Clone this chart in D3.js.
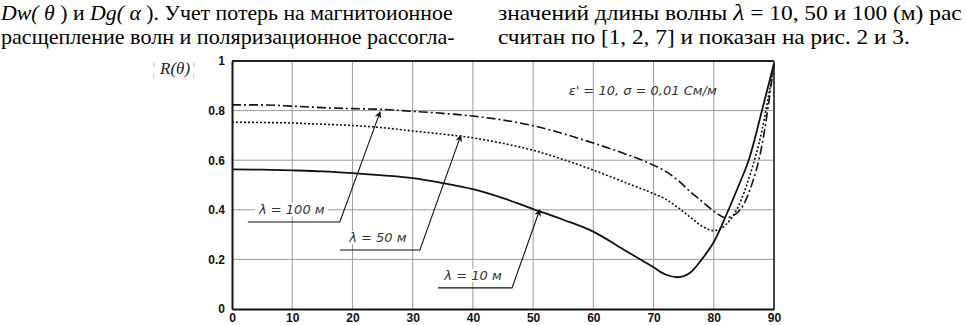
<!DOCTYPE html>
<html>
<head>
<meta charset="utf-8">
<script src="https://cdn.jsdelivr.net/npm/d3@7/dist/d3.min.js"></script>
<style>
  html, body { margin: 0; padding: 0; background: #fff; }
  svg { display: block; }
</style>
</head>
<body>
<div id="chart"></div>
<script>
// углы падения θ, градусы
const theta = [0, 5, 10, 15, 20, 25, 30, 35, 40, 45, 50, 55, 60, 65, 70, 72, 74, 76, 78, 80, 82, 84, 86, 88, 90];

// |R(θ)| для трёх длин волн
const r10 = [0.563, 0.562, 0.559, 0.555, 0.548, 0.539, 0.528, 0.508, 0.483, 0.447, 0.403, 0.360, 0.312, 0.240, 0.168, 0.139, 0.128, 0.145, 0.200, 0.270, 0.375, 0.490, 0.615, 0.800, 0.990];
const r50 = [0.753, 0.752, 0.750, 0.745, 0.740, 0.731, 0.718, 0.705, 0.690, 0.668, 0.640, 0.603, 0.560, 0.513, 0.465, 0.443, 0.410, 0.372, 0.335, 0.316, 0.340, 0.410, 0.540, 0.720, 0.990];
const r100 = [0.823, 0.823, 0.818, 0.812, 0.808, 0.805, 0.797, 0.789, 0.778, 0.762, 0.739, 0.707, 0.669, 0.628, 0.580, 0.555, 0.520, 0.475, 0.435, 0.395, 0.368, 0.390, 0.480, 0.660, 0.990];

const xTicks = [0, 10, 20, 30, 40, 50, 60, 70, 80, 90];
const yTicks = [0, 0.2, 0.4, 0.6, 0.8, 1];
const yTickLabels = ["0", "0.2", "0.4", "0.6", "0.8", "1"];

// подписи-выноски: острие стрелки и угол выноски в координатах графика
const callouts = [
    { text: "λ = 100 м", tip: [24.6, 0.795], corner: [17.9, 0.351], lead: 92 },
    { text: "λ = 50 м", tip: [38.0, 0.700], corner: [31.2, 0.238], lead: 80 },
    { text: "λ = 10 м", tip: [51.1, 0.400], corner: [46.5, 0.085], lead: 74 }
];

const W = 966, H = 325;
const margin = { top: 61, right: 192, bottom: 16, left: 232 };
const width = W - margin.left - margin.right;
const height = H - margin.top - margin.bottom;

const serif = "Liberation Serif";
const tickFont = "Liberation Sans";
const labelFont = "DejaVu Sans";

const svg = d3.select("#chart")
    .append("svg")
    .attr("width", W)
    .attr("height", H);

svg.append("rect").attr("width", W).attr("height", H).attr("fill", "#fff");

// текст статьи над рисунком (сжимаем по ширине колонки)
function textLine(x, y, len, parts) {
    const holder = svg.append("g");
    const t = holder.append("text")
        .style("font-family", serif)
        .style("font-size", "21px")
        .attr("fill", "#000");
    parts.forEach(p => {
        t.append("tspan")
            .style("font-style", p[1] ? "italic" : "normal")
            .style("font-size", p[2] ? p[2] + "px" : null)
            .text(p[0]);
    });
    const w = t.node().getComputedTextLength();
    holder.attr("transform", `translate(${x},${y}) scale(${len / w},1)`);
}
textLine(1, 20, 452, [["Dw(", 1], [" θ ", 1], [") и ", 0], ["Dg(", 1], [" α ", 1], ["). Учет потерь на магнитоионное", 0]]);
textLine(1, 44, 454, [["расщепление волн и поляризационное рассогла-", 0]]);
textLine(498, 20, 464, [["значений длины волны  ", 0], ["λ", 1, 23], ["  = 10, 50 и 100 (м) рас", 0]]);
textLine(498, 44, 412, [["считан по [1, 2, 7] и показан на рис. 2 и 3.", 0]]);

const g = svg.append("g")
    .attr("transform", `translate(${margin.left},${margin.top})`);

const x = d3.scaleLinear().domain([0, 90]).range([0, width]);
const y = d3.scaleLinear().domain([0, 1]).range([height, 0]);

// сетка
g.append("g")
    .selectAll("line")
    .data(xTicks.slice(1, -1))
    .enter()
    .append("line")
    .attr("x1", d => x(d)).attr("x2", d => x(d))
    .attr("y1", 0).attr("y2", height)
    .attr("stroke", "#9a9a9a")
    .attr("stroke-width", 1);

g.append("g")
    .selectAll("line")
    .data(yTicks.slice(1, -1))
    .enter()
    .append("line")
    .attr("x1", 0).attr("x2", width)
    .attr("y1", d => y(d)).attr("y2", d => y(d))
    .attr("stroke", "#9a9a9a")
    .attr("stroke-width", 1);

// рамка
g.append("line").attr("x1", 0).attr("x2", width).attr("y1", 0).attr("y2", 0)
    .attr("stroke", "#222").attr("stroke-width", 2);
g.append("line").attr("x1", width).attr("x2", width).attr("y1", 0).attr("y2", height)
    .attr("stroke", "#444").attr("stroke-width", 2);

// оси
const xAxis = g.append("g")
    .attr("transform", `translate(0,${height})`)
    .call(d3.axisBottom(x).tickValues(xTicks).tickSize(0).tickPadding(4).tickFormat(d3.format("d")));
const yAxis = g.append("g")
    .call(d3.axisLeft(y).tickValues(yTicks).tickSize(0).tickPadding(7)
        .tickFormat((d, i) => yTickLabels[i]));

[xAxis, yAxis].forEach(a => {
    a.attr("font-family", null).attr("font-size", null);
    a.select(".domain").attr("stroke", "#111").attr("stroke-width", 2);
    a.selectAll("text")
        .style("font-family", tickFont)
        .style("font-size", "12px")
        .style("font-weight", "bold")
        .attr("fill", "#111");
});

// кривые
const line = d3.line()
    .x(d => x(d[0]))
    .y(d => y(d[1]))
    .curve(d3.curveMonotoneX);

const series = [
    { values: r10, dash: null, w: 1.8 },
    { values: r50, dash: "2,2", w: 1.6 },
    { values: r100, dash: "9,3,2,3", w: 1.6 }
];

series.forEach(s => {
    g.append("path")
        .datum(theta.map((t, i) => [t, s.values[i]]))
        .attr("fill", "none")
        .attr("stroke", "#111")
        .attr("stroke-width", s.w)
        .attr("stroke-dasharray", s.dash)
        .attr("d", line);
});

// стрелки
svg.append("defs")
    .append("marker")
    .attr("id", "arrow")
    .attr("viewBox", "0 0 10 10")
    .attr("refX", 9)
    .attr("refY", 5)
    .attr("markerWidth", 9)
    .attr("markerHeight", 7)
    .attr("orient", "auto")
    .attr("markerUnits", "userSpaceOnUse")
    .append("path")
    .attr("d", "M0,0 L10,5 L0,10 L3,5 Z")
    .attr("fill", "#111");

callouts.forEach(c => {
    const cx = x(c.corner[0]), cy = y(c.corner[1]);
    const lbl = g.append("text")
        .attr("x", cx - c.lead / 2 - 2)
        .attr("y", cy - 8)
        .attr("text-anchor", "middle")
        .style("font-family", labelFont)
        .style("font-style", "italic")
        .style("font-size", "13px")
        .attr("fill", "#333")
        .text(c.text);
    const bb = lbl.node().getBBox();
    g.insert("rect", () => lbl.node())
        .attr("x", bb.x - 3).attr("y", bb.y + 1)
        .attr("width", bb.width + 6).attr("height", bb.height - 2)
        .attr("fill", "#fff");

    g.append("polyline")
        .attr("points", `${cx - c.lead},${cy} ${cx},${cy} ${x(c.tip[0])},${y(c.tip[1])}`)
        .attr("fill", "none")
        .attr("stroke", "#111")
        .attr("stroke-width", 1.1)
        .attr("marker-end", "url(#arrow)");
});

// параметры почвы
g.append("text")
    .attr("x", x(68.2))
    .attr("y", y(0.864))
    .attr("text-anchor", "middle")
    .style("font-family", labelFont)
    .style("font-style", "italic")
    .style("font-size", "13px")
    .attr("fill", "#333")
    .text("ε' = 10, σ = 0,01 См/м");

// подпись оси Y
const yl = svg.append("g").style("font-family", serif).style("font-size", "17px");
yl.append("text").attr("x", 152).attr("y", 74).attr("fill", "#bbb").text("¦");
yl.append("text").attr("x", 160).attr("y", 74).style("font-style", "italic").attr("fill", "#222").text("R(θ)");
yl.append("text").attr("x", 192).attr("y", 74).attr("fill", "#bbb").text("¦");
</script>
</body>
</html>
